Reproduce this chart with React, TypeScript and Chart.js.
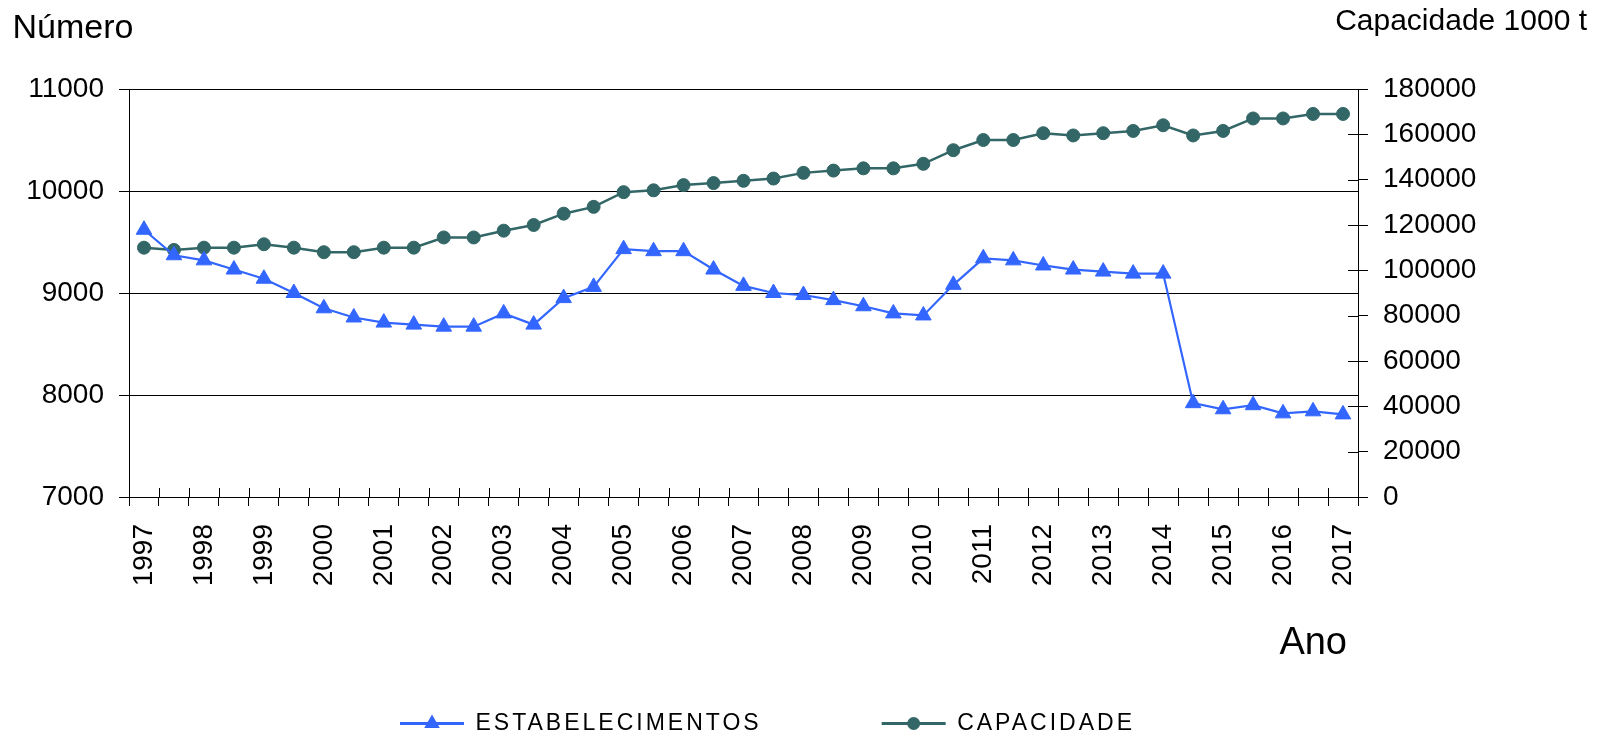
import React, { useEffect, useRef } from 'react';
import { Chart, registerables } from 'chart.js';

Chart.register(...registerables);

// ---- data ----
const categories = [
  '1997', '', '1998', '', '1999', '', '2000', '', '2001', '', '2002', '',
  '2003', '', '2004', '', '2005', '', '2006', '', '2007', '', '2008', '',
  '2009', '', '2010', '', '2011', '', '2012', '', '2013', '', '2014', '',
  '2015', '', '2016', '', '2017',
];

const estabelecimentos = [
  9620, 9370, 9320, 9230, 9140, 9000, 8850, 8760, 8710, 8690, 8670, 8670,
  8800, 8690, 8950, 9060, 9430, 9410, 9410, 9230, 9070, 9000, 8980, 8930,
  8870, 8800, 8780, 9080, 9340, 9320, 9270, 9230, 9210, 9190, 9190, 7920,
  7860, 7900, 7820, 7840, 7810,
];

const capacidade = [
  110000, 109000, 110000, 110000, 111500, 110000, 108000, 108000, 110000, 110000,
  114500, 114500, 117500, 120000, 125000, 128000, 134500, 135300, 137600, 138500,
  139500, 140500, 143000, 144000, 145000, 145000, 147000, 153000, 157500, 157500,
  160500, 159500, 160500, 161500, 164000, 159500, 161500, 167000, 167000, 169000,
  169000,
];

const seriesNames = ['ESTABELECIMENTOS', 'CAPACIDADE'];
const leftAxisRange = [7000, 11000, 1000];
const rightAxisRange = [0, 180000, 20000];
const titleLeft = 'Número';
const titleRight = 'Capacidade 1000 t';
const titleX = 'Ano';

// ---- styles ----
const FONT = "'Liberation Sans', Arial, Helvetica, sans-serif";
const BLUE = '#3366FF';
const TEAL = '#336666';
const CANVAS_W = 1604;
const CANVAS_H = 745;
const LEGEND_SPACING = '3px';

function drawMarker(ctx: CanvasRenderingContext2D, style: string, cx: number, cy: number, r: number, color: string) {
  ctx.save();
  ctx.fillStyle = color;
  ctx.beginPath();
  if (style === 'triangle') {
    const s = Math.sin(Math.PI * 2 / 3) * r;
    ctx.moveTo(cx, cy - r);
    ctx.lineTo(cx + s, cy + r / 2);
    ctx.lineTo(cx - s, cy + r / 2);
    ctx.closePath();
  } else {
    ctx.arc(cx, cy, r, 0, Math.PI * 2);
  }
  ctx.fill();
  ctx.restore();
}

function wrapLegend(chart: any) {
  const lg = chart.legend;
  if (!lg || lg.__spaced) return;
  lg.__spaced = true;
  ['fit', 'draw'].forEach((name) => {
    const orig = lg[name];
    lg[name] = function (...args: any[]) {
      const ctx: any = this.ctx;
      const prev = ctx.letterSpacing;
      ctx.letterSpacing = LEGEND_SPACING;
      try {
        return orig.apply(this, args);
      } finally {
        ctx.letterSpacing = prev || '0px';
      }
    };
  });
}

const decorPlugin = {
  id: 'decor',
  afterInit(chart: any) {
    wrapLegend(chart);
  },
  beforeLayout(chart: any) {
    wrapLegend(chart);
  },
  afterDraw(chart: any) {
    const ctx: CanvasRenderingContext2D = chart.ctx;
    const area = chart.chartArea;
    const xs = chart.scales.x;
    const y1 = chart.scales.y1;
    ctx.save();
    ctx.strokeStyle = '#000';
    ctx.lineWidth = 1;
    ctx.beginPath();
    // inner halves of x tick marks (at category boundaries)
    const n = categories.length;
    for (let i = 0; i <= n; i++) {
      const x = Math.round(xs.left + ((xs.right - xs.left) * i) / n) + 0.5;
      ctx.moveTo(x, area.bottom - 9);
      ctx.lineTo(x, area.bottom);
    }
    // inner halves of right axis tick marks
    y1.ticks.forEach((t: any) => {
      const y = Math.round(y1.getPixelForValue(t.value)) + 0.5;
      ctx.moveTo(area.right - 10, y);
      ctx.lineTo(area.right, y);
    });
    ctx.stroke();

    // titles
    ctx.fillStyle = '#000';
    ctx.textBaseline = 'alphabetic';
    ctx.font = `34px ${FONT}`;
    ctx.textAlign = 'left';
    ctx.fillText(titleLeft, 12.5, 38);
    ctx.font = `30px ${FONT}`;
    ctx.textAlign = 'right';
    ctx.fillText(titleRight, chart.width - 17, 30);
    ctx.font = `38px ${FONT}`;
    ctx.textAlign = 'right';
    ctx.fillText(titleX, area.right - 11, 654);

    // legend markers on top of the legend lines
    const lg = chart.legend;
    if (lg && lg.legendHitBoxes) {
      const bw = lg.options.labels.boxWidth;
      lg.legendHitBoxes.forEach((hb: any, i: number) => {
        const ds = chart.data.datasets[i];
        const cx = hb.left + bw / 2;
        const cy = hb.top + hb.height / 2;
        drawMarker(ctx, ds.pointStyle, cx, cy, ds.pointStyle === 'triangle' ? 9 : 6.5, ds.borderColor);
      });
    }
    ctx.restore();
  },
};

export default function App() {
  const ref = useRef<HTMLCanvasElement>(null);

  useEffect(() => {
    const canvas = ref.current;
    if (!canvas) return;
    const tickFont = { family: FONT, size: 28 };
    const chart = new Chart(canvas, {
      type: 'line',
      data: {
        labels: categories,
        datasets: [
          {
            label: seriesNames[0],
            data: estabelecimentos,
            yAxisID: 'y',
            borderColor: BLUE,
            backgroundColor: BLUE,
            borderWidth: 2.2,
            pointStyle: 'triangle',
            pointRadius: 9,
            pointBackgroundColor: BLUE,
            pointBorderColor: BLUE,
            pointBorderWidth: 1,
            tension: 0,
          },
          {
            label: seriesNames[1],
            data: capacidade,
            yAxisID: 'y1',
            borderColor: TEAL,
            backgroundColor: TEAL,
            borderWidth: 2.5,
            pointStyle: 'circle',
            pointRadius: 6.5,
            pointBackgroundColor: TEAL,
            pointBorderColor: TEAL,
            pointBorderWidth: 1,
            tension: 0,
          },
        ],
      },
      options: {
        responsive: false,
        animation: false,
        devicePixelRatio: 1,
        events: [],
        layout: { padding: { top: 89, left: 0, right: 69, bottom: 0 } },
        scales: {
          x: {
            type: 'category',
            offset: true,
            grid: {
              offset: true,
              drawOnChartArea: false,
              drawTicks: true,
              tickLength: 9,
              color: '#000',
            },
            border: { display: true, color: '#000', width: 1 },
            ticks: {
              autoSkip: false,
              minRotation: 90,
              maxRotation: 90,
              padding: 18,
              color: '#000',
              font: tickFont,
            },
            afterFit: (s: any) => {
              s.height = 95;
            },
          },
          y: {
            position: 'left',
            min: leftAxisRange[0],
            max: leftAxisRange[1],
            ticks: {
              stepSize: leftAxisRange[2],
              padding: 15,
              color: '#000',
              font: tickFont,
              callback: (v: any) => String(v),
            },
            grid: { color: '#000', tickLength: 10, drawTicks: true },
            border: { display: true, color: '#000', width: 1 },
            afterFit: (s: any) => {
              s.width = 129;
            },
          },
          y1: {
            position: 'right',
            min: rightAxisRange[0],
            max: rightAxisRange[1],
            ticks: {
              stepSize: rightAxisRange[2],
              padding: 15,
              color: '#000',
              font: tickFont,
              callback: (v: any) => String(v),
            },
            grid: { drawOnChartArea: false, color: '#000', tickLength: 10, drawTicks: true },
            border: { display: true, color: '#000', width: 1 },
            afterFit: (s: any) => {
              s.width = 177;
            },
          },
        },
        plugins: {
          tooltip: { enabled: false },
          title: { display: false },
          legend: {
            display: true,
            position: 'bottom',
            align: 'center',
            labels: {
              boxWidth: 64,
              boxHeight: 3,
              padding: 120,
              color: '#000',
              font: { family: FONT, size: 23 },
              generateLabels: (c: any) =>
                c.data.datasets.map((ds: any, i: number) => ({
                  text: ds.label,
                  fillStyle: ds.borderColor,
                  strokeStyle: ds.borderColor,
                  lineWidth: 0,
                  hidden: false,
                  datasetIndex: i,
                  fontColor: '#000',
                })),
            },
          },
        },
      },
      plugins: [decorPlugin],
    } as any);
    return () => chart.destroy();
  }, []);

  return (
    <div style={{ position: 'fixed', left: 0, top: 0, width: CANVAS_W, height: CANVAS_H, background: '#fff' }}>
      <canvas ref={ref} width={CANVAS_W} height={CANVAS_H} style={{ display: 'block' }} />
    </div>
  );
}
